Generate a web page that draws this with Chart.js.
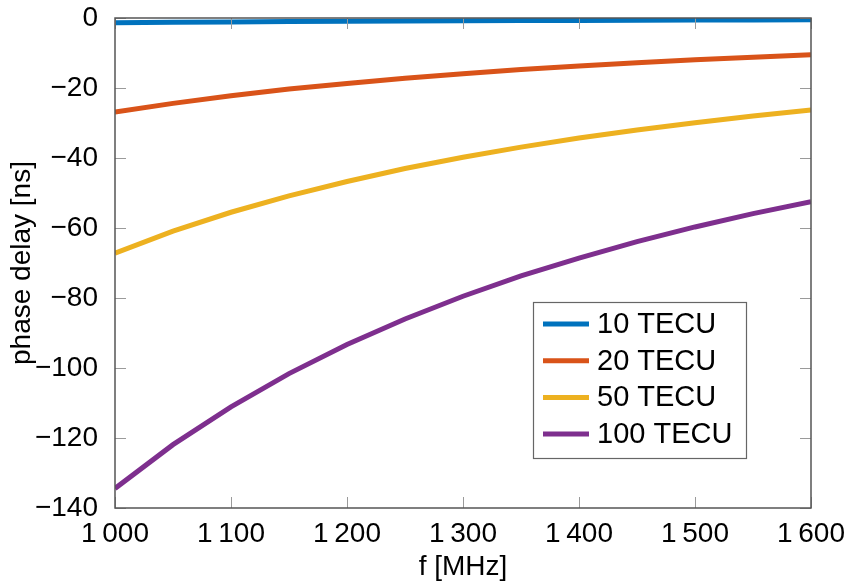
<!DOCTYPE html>
<html>
<head>
<meta charset="utf-8">
<script src="https://cdn.jsdelivr.net/npm/chart.js@4.4.1/dist/chart.umd.min.js"></script>
<style>
  html, body { margin: 0; padding: 0; background: #fff; }
</style>
</head>
<body>
<canvas id="chartLine" width="847" height="584"></canvas>
<script>
// frequency grid [MHz]
const freqs = [1000, 1050, 1100, 1150, 1200, 1250, 1300, 1350, 1400, 1450, 1500, 1550, 1600];

// phase delay [ns]
const tec10 = [-1.34, -1.22, -1.11, -1.02, -0.93, -0.86, -0.80, -0.74, -0.69, -0.64, -0.60, -0.56, -0.53];
const tec20 = [-26.9, -24.4, -22.2, -20.3, -18.7, -17.2, -15.9, -14.7, -13.7, -12.8, -11.9, -11.2, -10.5];
const tec50 = [-67.2, -60.9, -55.5, -50.8, -46.7, -43.0, -39.8, -36.9, -34.3, -32.0, -29.9, -28.0, -26.3];
const tec100 = [-134.4, -121.9, -111.1, -101.6, -93.3, -86.0, -79.5, -73.7, -68.6, -63.9, -59.7, -55.9, -52.5];

const seriesLabels = ["10 TECU", "20 TECU", "50 TECU", "100 TECU"];
const seriesColors = ["#0072BD", "#D95319", "#EDB120", "#7E2F8E"];

const xTicks = [1000, 1100, 1200, 1300, 1400, 1500, 1600];
const yTicks = [0, -20, -40, -60, -80, -100, -120, -140];

const FONT = "'Liberation Sans', Helvetica, Arial, sans-serif";
const FSIZE = 28;

function toPoints(ys) {
    return freqs.map((f, i) => ({ x: f, y: ys[i] }));
}

const dataLines = [tec10, tec20, tec50, tec100].map((ys, i) => ({
    label: seriesLabels[i],
    data: toPoints(ys),
    borderColor: seriesColors[i],
    backgroundColor: seriesColors[i],
    borderWidth: 5,
    pointRadius: 0,
    tension: 0,
}));

// frame, inward ticks on all four sides, and boxed legend
const framePlugin = {
    id: "frame",
    afterDraw(chart) {
        const { ctx, chartArea: a, scales } = chart;
        ctx.save();
        ctx.strokeStyle = "#9a9a9a";
        ctx.lineWidth = 1;
        ctx.beginPath();
        xTicks.forEach((v) => {
            const px = Math.round(scales.x.getPixelForValue(v)) + 0.5;
            ctx.moveTo(px, a.bottom); ctx.lineTo(px, a.bottom - 11);
            ctx.moveTo(px, a.top); ctx.lineTo(px, a.top + 11);
        });
        yTicks.forEach((v) => {
            const py = Math.round(scales.y.getPixelForValue(v)) + 0.5;
            ctx.moveTo(a.left, py); ctx.lineTo(a.left + 11, py);
            ctx.moveTo(a.right, py); ctx.lineTo(a.right - 11, py);
        });
        ctx.stroke();

        ctx.strokeStyle = "#555";
        ctx.lineWidth = 1.5;
        ctx.strokeRect(a.left, a.top, a.right - a.left, a.bottom - a.top);

        // legend
        const lx = 533, ly = 302, lw = 213, lh = 156;
        ctx.fillStyle = "#fff";
        ctx.fillRect(lx, ly, lw, lh);
        ctx.strokeStyle = "#666";
        ctx.lineWidth = 1.2;
        ctx.strokeRect(lx + 0.5, ly + 0.5, lw, lh);
        ctx.font = "29px " + FONT;
        ctx.textBaseline = "middle";
        ctx.textAlign = "left";
        chart.data.datasets.forEach((ds, i) => {
            const cy = ly + 22 + i * 36.7;
            ctx.strokeStyle = ds.borderColor;
            ctx.lineWidth = 5;
            ctx.beginPath();
            ctx.moveTo(lx + 10, cy);
            ctx.lineTo(lx + 56, cy);
            ctx.stroke();
            ctx.fillStyle = "#000";
            ctx.fillText(ds.label, lx + 64, cy + 1);
        });
        ctx.restore();
    },
};

const configLine = {
    type: "line",
    data: { datasets: dataLines },
    options: {
        responsive: false,
        animation: false,
        layout: { padding: { top: 18, right: 36, left: 0, bottom: 0 } },
        plugins: { legend: { display: false }, tooltip: { enabled: false } },
        scales: {
            x: {
                type: "linear",
                min: 1000,
                max: 1600,
                afterBuildTicks: (scale) => { scale.ticks = xTicks.map((v) => ({ value: v })); },
                afterFit: (scale) => {
                    scale.height = 76;
                    scale.paddingLeft = 0;
                    scale.paddingRight = 0;
                },
                grid: { display: false },
                border: { display: false },
                ticks: {
                    color: "#000",
                    padding: 1,
                    maxRotation: 0,
                    autoSkip: false,
                    font: { family: FONT, size: FSIZE },
                    callback: (v) => String(v).replace(/(\d)(\d{3})$/, "$1\u2009$2"),
                },
                title: {
                    display: true,
                    text: "f [MHz]",
                    color: "#000",
                    font: { family: FONT, size: FSIZE },
                    padding: { top: 0, bottom: 0 },
                },
            },
            y: {
                min: -140,
                max: 0,
                afterBuildTicks: (scale) => { scale.ticks = yTicks.map((v) => ({ value: v })); },
                afterFit: (scale) => {
                    scale.width = 115;
                    scale.paddingTop = 0;
                    scale.paddingBottom = 0;
                },
                grid: { display: false },
                border: { display: false },
                ticks: {
                    color: "#000",
                    padding: 9,
                    autoSkip: false,
                    font: { family: FONT, size: FSIZE },
                    callback: (v) => String(v).replace("-", "\u2212"),
                },
                title: {
                    display: true,
                    text: "phase delay [ns]",
                    color: "#000",
                    font: { family: FONT, size: FSIZE },
                    padding: { top: 5, bottom: 0 },
                },
            },
        },
    },
    plugins: [framePlugin],
};

let chartLine = new Chart(document.getElementById("chartLine"), configLine);
</script>
</body>
</html>
